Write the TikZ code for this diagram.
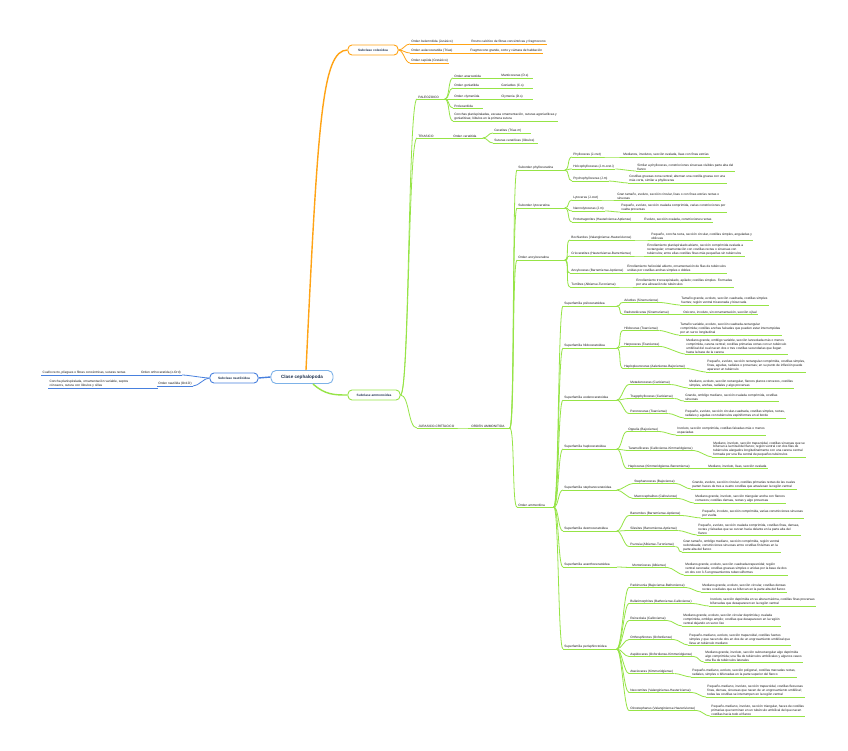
\documentclass[tikz,border=0pt]{standalone}
\usepackage{fontspec}
\setmainfont{Liberation Sans}
\usepackage{tikz}
\definecolor{grn}{RGB}{150,228,70}
\definecolor{org}{RGB}{255,163,20}
\definecolor{blu}{RGB}{72,128,222}
\definecolor{lblu}{RGB}{125,178,232}
\definecolor{ink}{RGB}{25,25,25}
\definecolor{navy}{RGB}{30,50,80}
\begin{document}
\begin{tikzpicture}[x=1pt,y=-1pt,
    tx/.style={inner xsep=1.2pt,inner ysep=.6pt,align=left,text=ink,
      font=\fontsize{3.2}{3.8}\selectfont},
    ul/.style={append after command={(\tikzlastnode.south west)
      edge[draw=#1,line width=.8pt] (\tikzlastnode.south east)}},
    gnode/.style={tx,anchor=south west,ul=grn},
    onode/.style={tx,anchor=south west,ul=org},
    bnode/.style={tx,anchor=south east,ul=blu},
    tw/.style={text width=#1pt},
    subbox/.style={draw=#1,line width=.9pt,rounded corners=4pt,fill=white,
      text=navy,font=\fontsize{3.2}{3.8}\selectfont\bfseries,
      minimum height=10pt,minimum width=50pt},
    glink/.style={grn,line width=.8pt},
    olink/.style={org,line width=.8pt},
    blink/.style={blu,line width=.8pt}]
  \fill[white] (0,0) rectangle (848,751);
  \useasboundingbox (0,0) rectangle (848,751);

  % central node and subclasses
  \node[subbox=lblu,font=\fontsize{4.6}{5.2}\selectfont\bfseries,
    minimum width=62pt,minimum height=13pt,rounded corners=5pt] (root) at (302,377) {Clase cephalopoda};
  \node[subbox=blu,minimum width=48pt] (naut) at (234,378) {Subclase nautiloidea};
  \node[subbox=org] (cole) at (373,50) {Subclase coleoidea};
  \node[subbox=grn,minimum width=52pt] (ammo) at (374,395) {Subclase ammonoidea};
  \draw[blu,line width=1.4pt] (root.west) -- (naut.east);
  \draw[org,line width=1.4pt] ([xshift=4pt]root.north) .. controls (318,120) and (322,50) .. (cole.west);
  \draw[grn,line width=1.4pt] ([xshift=11pt]root.south) .. controls (325,395) and (335,395) .. (ammo.west);

  % nautiloidea
  \node[bnode] (nor) at (182,375) {Orden orthoceratida (o.Ord)};
  \node[bnode] (nor-d) at (127,375) {Cuello recto, pliegues o fibras concéntricas, suturas rectas};
  \node[bnode] (nna) at (193,386) {Orden nautilida (Ord.D)};
  \node[bnode,tw=107] (nna-d) at (158,388) {Concha planispiralada, ornamentación variable, septos\\cóncavos, sutura con lóbulos y sillas};
  \foreach \c in {nor,nna}
    \draw[blink] (naut.west) .. controls +(-6,0) and +(6,0) .. (\c.south east);
  \draw[blink] (nor.south west) -- (nor-d.south east);

  % coleoidea
  \node[onode,tw=43] (bel) at (410,44) {Orden belemnitida (Jurásico)};
  \node[onode] (bel-d) at (470,44) {Rostro calcítico de fibras concéntricas y fragmocono};
  \node[onode,tw=43] (aul) at (410,53) {Orden aulacoceratida (Trías)};
  \node[onode] (aul-d) at (469,53) {Fragmocono grande, corto y cámara de habitación};
  \node[onode] (sep) at (410,63) {Orden sepiida (Cretácico)};
  \foreach \c in {bel,aul,sep}
    \draw[olink] (cole.east) .. controls +(5,0) and +(-5,0) .. (\c.south west);
  \foreach \n in {bel,aul}
    \draw[olink] (\n.south east) -- (\n-d.south west);

  % ammonoidea: paleozoico y triasico
  \node[gnode,tw=25] (pal) at (417,99) {PALEOZOICO};
  \node[gnode,tw=21] (tri) at (417,138) {TRIASICO};
  \node[gnode,tw=36] (jur) at (417,428) {JURASICO-CRETACICO};
  \node[gnode,tw=33] (ana) at (453,78) {Orden anarcestida};
  \node[gnode,tw=30] (ana-d) at (500,78) {Manticoceras (D.s)};
  \node[gnode,tw=33] (gon) at (453,88) {Orden goniatitida};
  \node[gnode,tw=30] (gon-d) at (500,88) {Goniatites (C.s)};
  \node[gnode,tw=33] (cly) at (453,99) {Orden clymeniida};
  \node[gnode,tw=30] (cly-d) at (500,99) {Clymenia (D.s)};
  \node[gnode,tw=27] (pro) at (453,108) {Prolecanitida};
  \node[gnode] (con) at (453,121) {Conchas planispiraladas, escasa ornamentación, suturas agoniatíticas y\\goniatíticas; lóbulos en la primera sutura};
  \node[gnode,tw=28] (cer) at (452,138) {Orden ceratitida};
  \node[gnode,tw=35] (cerd1) at (493,133) {Ceratites (Trías m)};
  \node[gnode,tw=42] (cerd2) at (493,143) {Suturas ceratíticas (lóbulos)};

  % jurasico-cretacico
  \node[gnode,tw=37] (amo) at (470,428) {ORDEN AMMONITIDA};
  \node[gnode,tw=45] (phy) at (517,170) {Suborden phylloceratina};
  \node[gnode,tw=45] (lyt) at (517,208) {Suborden lytoceratina};
  \node[gnode,tw=45] (anc) at (517,260) {Orden ancyloceratina};
  \node[gnode,tw=34] (amt) at (517,507) {Orden ammonitina};

  \node[gnode] (phy1) at (572,157) {Phylloceras (J-cret)};
  \node[gnode] (phy1-d) at (622,157) {Medianos, involutos, sección ovalada, lisas con finas estrías};
  \node[gnode] (phy2) at (572,169) {Holcophylloceras (J.m-cret.i)};
  \node[gnode] (phy2-d) at (636,171) {Similar a phylloceras, constricciones sinuosas visibles parte alta del\\flanco};
  \node[gnode] (phy3) at (572,181) {Ptychophylloceras (J.m)};
  \node[gnode] (phy3-d) at (628,183) {Costillas gruesas zona ventral; alternan una costilla gruesa con una\\más corta, similar a phylloceras};

  \node[gnode] (lyt1) at (572,200) {Lytoceras (J-cret)};
  \node[gnode] (lyt1-d) at (616,200) {Gran tamaño, evoluto, sección circular, lisas o con finas estrías rectas o\\sinuosas};
  \node[gnode] (lyt2) at (572,211) {Nannolytoceras (J.m)};
  \node[gnode] (lyt2-d) at (620,212) {Pequeño, evoluto, sección ovalada comprimida, varias constricciones por\\vuelta proversas};
  \node[gnode] (lyt3) at (572,222) {Protetragonites (Hauteriviense-Aptiense)};
  \node[gnode] (lyt3-d) at (643,222) {Evoluto, sección ovalada, constricciones rectas};

  \node[gnode] (an1) at (570,240) {Bochianites (Valanginiense-Hauteriviense)};
  \node[gnode] (an1-d) at (650,240) {Pequeño, concha recta, sección circular, costillas simples, anguladas y\\oblicuas};
  \node[gnode] (an2) at (570,256) {Crioceratites (Hauteriviense-Barremiense)};
  \node[gnode] (an2-d) at (646,256) {Enrollamiento planispiralado abierto, sección comprimida ovalada a\\rectangular; ornamentación con costillas rectas o sinuosas con\\tubérculos; entre ellas costillas finas más pequeñas sin tubérculos};
  \node[gnode] (an3) at (570,273) {Ancyloceras (Barremiense-Aptiense)};
  \node[gnode] (an3-d) at (626,273) {Enrollamiento helicoidal abierto, ornamentación de filas de tubérculos\\unidas por costillas anchas simples o dobles};
  \node[gnode] (an4) at (570,287) {Turrilites (Albiense-Turoniense)};
  \node[gnode] (an4-d) at (635,287) {Enrollamiento trocoespiralado, apilado; costillas simples. Formadas\\por una alineación de tubérculos};

  % superfamilias
  \node[gnode,tw=51] (sf1) at (563,306) {Superfamilia psiloceratoidea};
  \node[gnode,tw=51] (sf2) at (563,348) {Superfamilia hildoceratoidea};
  \node[gnode,tw=51] (sf3) at (563,400) {Superfamilia eoderoceratoidea};
  \node[gnode,tw=51] (sf4) at (563,449) {Superfamilia haploceratoidea};
  \node[gnode,tw=51] (sf5) at (563,490) {Superfamilia stephanoceratoidea};
  \node[gnode,tw=51] (sf6) at (563,531) {Superfamilia desmoceratoidea};
  \node[gnode,tw=51] (sf7) at (563,567) {Superfamilia acanthoceratoidea};
  \node[gnode,tw=51] (sf8) at (563,649) {Superfamilia perisphinctoidea};

  \node[gnode] (ps1) at (623,302.5) {Arietites (Sinemuriense)};
  \node[gnode] (ps1-d) at (680,305) {Tamaño grande, evoluto, sección cuadrada, costillas simples\\fuertes; región ventral tricarenada y bisurcada};
  \node[gnode] (ps2) at (623,314.5) {Radstockiceras (Sinemuriense)};
  \node[gnode] (ps2-d) at (682,314.5) {Oxicono, involuto, sin ornamentación, sección ojival};

  \node[gnode] (hi1) at (623,330.5) {Hildoceras (Toarciense)};
  \node[gnode] (hi1-d) at (679,335) {Tamaño variable, evoluto, sección cuadrada-rectangular\\comprimida; costillas anchas falcadas que pueden estar interrumpidas\\por un surco longitudinal};
  \node[gnode] (hi2) at (623,346.5) {Harpoceras (Toarciense)};
  \node[gnode] (hi2-d) at (685,354) {Mediano-grande, ombligo variable, sección lanceolada más o menos\\comprimida, carena ventral; costillas primarias cortas con un tubérculo\\umbilical del cual nacen dos o tres costillas secundarias que llegan\\hasta la base de la carena};
  \node[gnode] (hi3) at (623,368.5) {Haplopleuroceras (Aaleniense-Bajociense)};
  \node[gnode] (hi3-d) at (706,372) {Pequeño, evoluto, sección rectangular comprimida, costillas simples,\\finas, agudas, radiales o proversas; en su punto de inflexión puede\\aparecer un tubérculo};

  \node[gnode] (eo1) at (629,384.5) {Metaderoceras (Carixiense)};
  \node[gnode] (eo1-d) at (688,388) {Mediano, evoluto, sección rectangular, flancos planos convexos, costillas\\simples, anchas, radiales y algo proversas};
  \node[gnode] (eo2) at (629,398.5) {Tragophylloceras (Carixiense)};
  \node[gnode] (eo2-d) at (684,401) {Grande, ombligo mediano, sección ovalada comprimida, costillas\\sinuosas};
  \node[gnode] (eo3) at (629,413.5) {Peronoceras (Toarciense)};
  \node[gnode] (eo3-d) at (684,418) {Pequeño, evoluto, sección circular-cuadrada, costillas simples, rectas,\\radiales y agudas con tubérculos espiniformes en el borde};

  \node[gnode] (ha1) at (627,431.5) {Oppelia (Bajociense)};
  \node[gnode] (ha1-d) at (676,435) {Involuto, sección comprimida, costillas falcadas más o menos\\espaciadas};
  \node[gnode] (ha2) at (627,450.5) {Taramelliceras (Calloviense-Kimmeridgiense)};
  \node[gnode] (ha2-d) at (712,457) {Mediano, involuto, sección trapezoidal, costillas sinuosas que se\\bifurcan a la mitad del flanco; región ventral con dos filas de\\tubérculos alargados longitudinalmente con una carena central\\formada por una fila central de pequeños tubérculos};
  \node[gnode] (ha3) at (627,468.5) {Haploceras (Kimmeridgiense-Barremiense)};
  \node[gnode] (ha3-d) at (707,468.5) {Mediano, involuto, lisas, sección ovalada};

  \node[gnode] (st1) at (633,483.5) {Stephanoceras (Bajociense)};
  \node[gnode] (st1-d) at (691,489) {Grande, evoluto, sección circular, costillas primarias rectas de las cuales\\parten haces de tres a cuatro costillas que atraviesan la región ventral};
  \node[gnode] (st2) at (633,498.5) {Macrocephalites (Calloviense)};
  \node[gnode] (st2-d) at (694,503) {Mediano-grande, involuto, sección triangular ancha con flancos\\convexos; costillas densas, rectas y algo proversas};

  \node[gnode] (de1) at (629,515.5) {Barremites (Barremiense-Aptiense)};
  \node[gnode] (de1-d) at (701,518) {Pequeño, involuto, sección comprimida, varias constricciones sinuosas\\por vuelta};
  \node[gnode] (de2) at (629,530.5) {Silesites (Barremiense-Aptiense)};
  \node[gnode] (de2-d) at (697,535) {Pequeño, evoluto, sección ovalada comprimida, costillas finas, densas,\\rectas y falcadas que se curvan hacia delante en la parte alta del\\flanco};
  \node[gnode] (de3) at (629,546.5) {Puzosia (Albiense-Turoniense)};
  \node[gnode] (de3-d) at (682,552) {Gran tamaño, ombligo mediano, sección comprimida, región ventral\\redondeada; constricciones sinuosas entre costillas finísimas en la\\parte alta del flanco};

  \node[gnode] (ac1) at (631,567.5) {Mortoniceras (Albiense)};
  \node[gnode] (ac1-d) at (684,575) {Mediano-grande, evoluto, sección cuadrada-trapezoidal; región\\ventral carenada; costillas gruesas simples o unidas por la base de dos\\en dos con 3-5 engrosamientos tuberculiformes};

  \node[gnode] (pe1) at (629,587.5) {Parkinsonia (Bajociense-Bathoniense)};
  \node[gnode] (pe1-d) at (701,592) {Mediano-grande, evoluto, sección circular, costillas densas\\rectas o radiales que se bifurcan en la parte alta del flanco};
  \node[gnode] (pe2) at (629,603.5) {Bullatimorphites (Bathoniense-Calloviense)};
  \node[gnode] (pe2-d) at (709,606) {Involuto, sección deprimida en su altura máxima, costillas finas proversas\\bifurcadas que desaparecen en la región ventral};
  \node[gnode] (pe3) at (629,620.5) {Reineckeia (Calloviense)};
  \node[gnode] (pe3-d) at (682,626) {Mediano-grande, evoluto, sección circular deprimida y ovalada\\comprimida, ombligo amplio; costillas que desaparecen en la región\\ventral dejando un surco liso};
  \node[gnode] (pe4) at (629,639.5) {Orthosphinctes (Oxfordiense)};
  \node[gnode] (pe4-d) at (688,645) {Pequeño-mediano, evoluto, sección trapezoidal, costillas fuertes\\simples y que nacen de dos en dos de un engrosamiento umbilical que\\lleva un tubérculo mediano};
  \node[gnode] (pe5) at (629,656.5) {Aspidoceras (Oxfordiense-Kimmeridgiense)};
  \node[gnode] (pe5-d) at (704,662) {Mediano-grande, involuto, sección subrectangular algo deprimida\\algo comprimida; una fila de tubérculos umbilicales y algunos casos\\otra fila de tubérculos laterales};
  \node[gnode] (pe6) at (629,673.5) {Ataxioceras (Kimmeridgiense)};
  \node[gnode] (pe6-d) at (691,677) {Pequeño-mediano, evoluto, sección poligonal, costillas marcadas rectas,\\radiales, simples o bifurcadas en la parte superior del flanco};
  \node[gnode] (pe7) at (629,692.5) {Neocomites (Valanginiense-Hauteriviense)};
  \node[gnode] (pe7-d) at (706,697) {Pequeño-mediano, involuto, sección trapezoidal, costillas flexuosas\\finas, densas, sinuosas que nacen de un engrosamiento umbilical;\\todas las costillas se interrumpen en la región ventral};
  \node[gnode] (pe8) at (629,710.5) {Olcostephanus (Valanginiense-Hauteriviense)};
  \node[gnode] (pe8-d) at (710,716) {Pequeño-mediano, involuto, sección triangular, haces de costillas\\primarias que terminan en un tubérculo umbilical del que nacen\\costillas hacia todo el flanco};

  % connectors of the ammonoidea branch
  \foreach \c in {pal,tri,jur}
    \draw[glink] (ammo.east) .. controls +(9,0) and +(-9,0) .. (\c.south west);
  \foreach \pa/\kids in {pal/{ana,gon,cly,pro,con},tri/{cer},cer/{cerd1,cerd2},jur/{amo},
      amo/{phy,lyt,anc,amt},phy/{phy1,phy2,phy3},lyt/{lyt1,lyt2,lyt3},anc/{an1,an2,an3,an4},
      amt/{sf1,sf2,sf3,sf4,sf5,sf6,sf7,sf8},sf1/{ps1,ps2},sf2/{hi1,hi2,hi3},sf3/{eo1,eo2,eo3},
      sf4/{ha1,ha2,ha3},sf5/{st1,st2},sf6/{de1,de2,de3},sf7/{ac1},
      sf8/{pe1,pe2,pe3,pe4,pe5,pe6,pe7,pe8}}
    \foreach \c in \kids
      \draw[glink] (\pa.south east) .. controls +(5,0) and +(-5,0) .. (\c.south west);
  \foreach \n in {ana,gon,cly,phy1,phy2,phy3,lyt1,lyt2,lyt3,an1,an2,an3,an4,ps1,ps2,
      hi1,hi2,hi3,eo1,eo2,eo3,ha1,ha2,ha3,st1,st2,de1,de2,de3,ac1,
      pe1,pe2,pe3,pe4,pe5,pe6,pe7,pe8}
    \draw[glink] (\n.south east) .. controls +(5,0) and +(-5,0) .. (\n-d.south west);
\end{tikzpicture}
\end{document}
